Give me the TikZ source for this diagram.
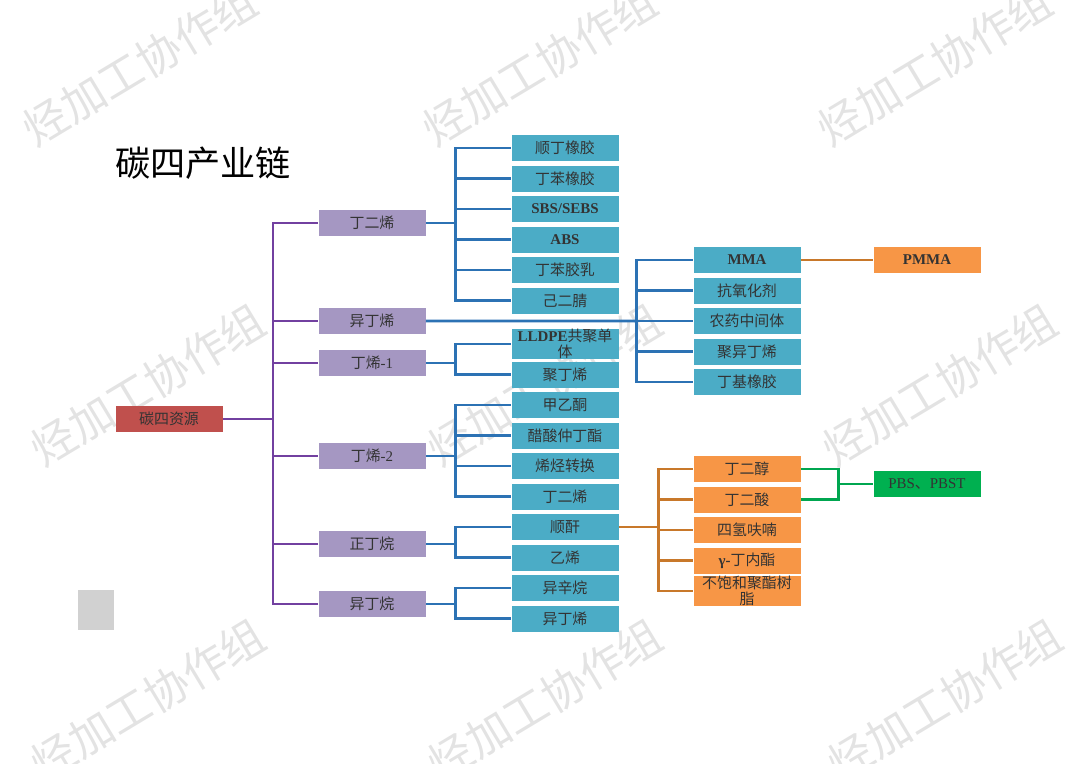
\documentclass[tikz,border=0pt]{standalone}
\usepackage{fontspec}
\setmainfont{Liberation Serif}
\newfontfamily\cjk{Noto Sans CJK SC}
\usetikzlibrary{positioning}
\definecolor{redbox}{HTML}{C0504D}
\definecolor{purbox}{HTML}{A597C2}
\definecolor{blubox}{HTML}{4BACC6}
\definecolor{orgbox}{HTML}{F79646}
\definecolor{grnbox}{HTML}{00B050}
\definecolor{purline}{HTML}{7240A0}
\definecolor{bluline}{HTML}{2C72B4}
\definecolor{orgline}{HTML}{C8782A}
\definecolor{grnline}{HTML}{00A650}

\begin{document}
\begin{tikzpicture}[x=0.2mm,y=-0.2mm,node distance=6.1mm,
    cbox/.style={minimum width=21.4mm,minimum height=5.2mm,inner sep=0pt,align=center,text=black!80,font=\cjk\fontsize{8.5}{6.8}\selectfont},
    rednode/.style={cbox,fill=redbox},
    purnode/.style={cbox,fill=purbox},
    blunode/.style={cbox,fill=blubox},
    orgnode/.style={cbox,fill=orgbox},
    grnnode/.style={cbox,fill=grnbox},
    plink/.style={draw=purline,line width=0.55mm},
    blink/.style={draw=bluline,line width=0.55mm},
    olink/.style={draw=orgline,line width=0.55mm},
    glink/.style={draw=grnline,line width=0.55mm},
    wmark/.style={rotate=31,text=black!11,font=\cjk\fontsize{25}{25}\selectfont}]
    \useasboundingbox (0,0) rectangle (1080,763);

    % 水印
    \node[wmark] (wm1) at (140,65) {烃加工协作组};
    \node[wmark] (wm2) at (540,65) {烃加工协作组};
    \node[wmark] (wm3) at (935,65) {烃加工协作组};
    \node[wmark] (wm4) at (148,385) {烃加工协作组};
    \node[wmark] (wm5) at (545,385) {烃加工协作组};
    \node[wmark] (wm6) at (940,385) {烃加工协作组};
    \node[wmark] (wm7) at (148,700) {烃加工协作组};
    \node[wmark] (wm8) at (545,700) {烃加工协作组};
    \node[wmark] (wm9) at (945,700) {烃加工协作组};

    \node[font=\cjk\fontsize{20}{24}\selectfont] (title) at (203,163) {碳四产业链};
    \fill[black!18] (78,590) rectangle (114,630);

    % 资源
    \node[rednode] (res) at (169,419) {碳四资源};

    % 碳四组分
    \node[purnode] (p1) at (372,223) {丁二烯};
    \node[purnode] (p2) at (372,321) {异丁烯};
    \node[purnode] (p3) at (372,363) {丁烯{\rmfamily -1}};
    \node[purnode] (p4) at (372,456) {丁烯{\rmfamily -2}};
    \node[purnode] (p5) at (372,544) {正丁烷};
    \node[purnode] (p6) at (372,604) {异丁烷};

    % 下游产品
    \node[blunode] (b1) at (565,148) {顺丁橡胶};
    \node[blunode, below of=b1] (b2) {丁苯橡胶};
    \node[blunode, below of=b2] (b3) {\rmfamily\bfseries SBS/SEBS};
    \node[blunode, below of=b3] (b4) {\rmfamily\bfseries ABS};
    \node[blunode, below of=b4] (b5) {丁苯胶乳};
    \node[blunode, below of=b5] (b6) {己二腈};
    \node[blunode] (b7) at (565,344) {{\rmfamily\bfseries LLDPE}共聚单\\体};
    \node[blunode, below of=b7] (b8) {聚丁烯};
    \node[blunode, below of=b8] (b9) {甲乙酮};
    \node[blunode, below of=b9] (b10) {醋酸仲丁酯};
    \node[blunode, below of=b10] (b11) {烯烃转换};
    \node[blunode, below of=b11] (b12) {丁二烯};
    \node[blunode, below of=b12] (b13) {顺酐};
    \node[blunode, below of=b13] (b14) {乙烯};
    \node[blunode, below of=b14] (b15) {异辛烷};
    \node[blunode, below of=b15] (b16) {异丁烯};

    % 异丁烯 / 顺酐 下游
    \node[blunode] (r1) at (747,260) {\rmfamily\bfseries MMA};
    \node[blunode, below of=r1] (r2) {抗氧化剂};
    \node[blunode, below of=r2] (r3) {农药中间体};
    \node[blunode, below of=r3] (r4) {聚异丁烯};
    \node[blunode, below of=r4] (r5) {丁基橡胶};
    \node[orgnode] (o1) at (747,469) {丁二醇};
    \node[orgnode, below of=o1] (o2) {丁二酸};
    \node[orgnode, below of=o2] (o3) {四氢呋喃};
    \node[orgnode, below of=o3] (o4) {{\rmfamily\bfseries γ-}丁内酯};
    \node[orgnode, below of=o4] (o5) {不饱和聚酯树\\脂};
    \node[orgnode] (pmma) at (927,260) {\rmfamily\bfseries PMMA};
    \node[grnnode] (pbs) at (927,484) {{\rmfamily PBS}、{\rmfamily PBST}};

    % 连线
    \coordinate (pj) at (273,419);
    \draw[plink] (res.east) -- (pj);
    \draw[plink] (pj) |- (p1.west);
    \draw[plink] (pj) |- (p2.west);
    \draw[plink] (pj) |- (p3.west);
    \draw[plink] (pj) |- (p4.west);
    \draw[plink] (pj) |- (p5.west);
    \draw[plink] (pj) |- (p6.west);

    \coordinate[right=6mm of p1.east] (j1);
    \draw[blink] (p1.east) -- (j1);
    \draw[blink] (j1) |- (b1.west);
    \draw[blink] (j1) |- (b2.west);
    \draw[blink] (j1) |- (b3.west);
    \draw[blink] (j1) |- (b4.west);
    \draw[blink] (j1) |- (b5.west);
    \draw[blink] (j1) |- (b6.west);

    \coordinate[left=11.4mm of r3.west] (j2);
    \draw[blink] (p2.east) -- (j2);
    \draw[blink] (j2) |- (r1.west);
    \draw[blink] (j2) |- (r2.west);
    \draw[blink] (j2) -- (r3.west);
    \draw[blink] (j2) |- (r4.west);
    \draw[blink] (j2) |- (r5.west);

    \coordinate[right=6mm of p3.east] (j3);
    \draw[blink] (p3.east) -- (j3);
    \draw[blink] (j3) |- (b7.west);
    \draw[blink] (j3) |- (b8.west);

    \coordinate[right=6mm of p4.east] (j4);
    \draw[blink] (p4.east) -- (j4);
    \draw[blink] (j4) |- (b9.west);
    \draw[blink] (j4) |- (b10.west);
    \draw[blink] (j4) |- (b11.west);
    \draw[blink] (j4) |- (b12.west);

    \coordinate[right=6mm of p5.east] (j5);
    \draw[blink] (p5.east) -- (j5);
    \draw[blink] (j5) |- (b13.west);
    \draw[blink] (j5) |- (b14.west);

    \coordinate[right=6mm of p6.east] (j6);
    \draw[blink] (p6.east) -- (j6);
    \draw[blink] (j6) |- (b15.west);
    \draw[blink] (j6) |- (b16.west);

    \coordinate[right=8mm of b13.east] (oj);
    \draw[olink] (b13.east) -- (oj);
    \draw[olink] (oj) |- (o1.west);
    \draw[olink] (oj) |- (o2.west);
    \draw[olink] (oj) |- (o3.west);
    \draw[olink] (oj) |- (o4.west);
    \draw[olink] (oj) |- (o5.west);
    \draw[olink] (r1.east) -- (pmma.west);

    \coordinate[left=7mm of pbs.west] (gj);
    \draw[glink] (o1.east) -| (gj) |- (o2.east);
    \draw[glink] (gj) -- (pbs.west);
\end{tikzpicture}
\end{document}
